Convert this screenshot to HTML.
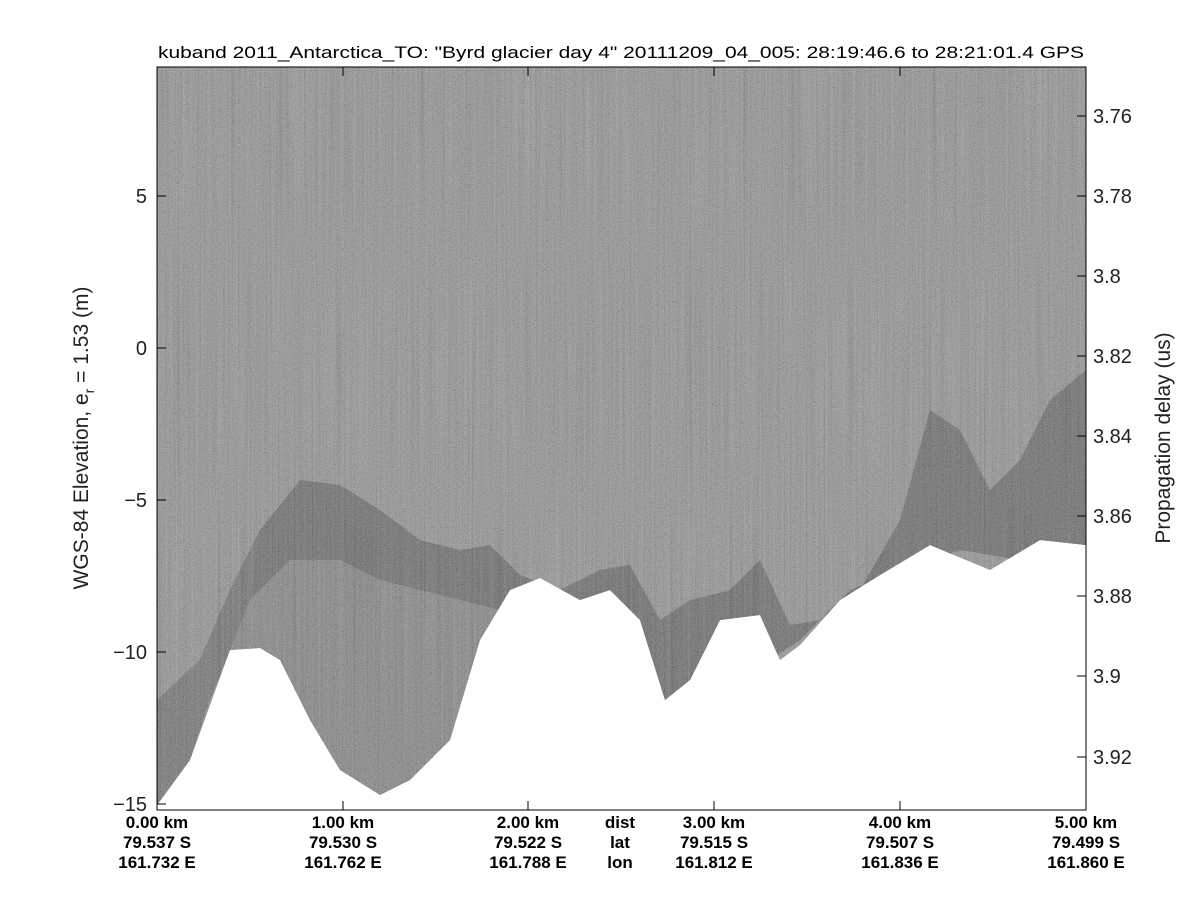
<!DOCTYPE html>
<html><head><meta charset="utf-8"><style>
html,body{margin:0;padding:0;background:#fff;}
svg{display:block;font-family:"Liberation Sans",sans-serif;}
</style></head><body>
<svg width="1200" height="900" viewBox="0 0 1200 900">
<defs>
<filter id="n" x="0" y="0" width="100%" height="100%">
<feTurbulence type="fractalNoise" baseFrequency="0.9 0.7" numOctaves="2" seed="3"/>
<feColorMatrix type="matrix" values="0.33 0.33 0.33 0 0  0.33 0.33 0.33 0 0  0.33 0.33 0.33 0 0  0 0 0 0 1"/>
<feComponentTransfer><feFuncR type="linear" slope="2.2" intercept="-0.6"/><feFuncG type="linear" slope="2.2" intercept="-0.6"/><feFuncB type="linear" slope="2.2" intercept="-0.6"/></feComponentTransfer>
</filter>
<filter id="v" x="0" y="0" width="100%" height="100%">
<feTurbulence type="fractalNoise" baseFrequency="0.5 0.004" numOctaves="2" seed="7"/>
<feColorMatrix type="matrix" values="0.33 0.33 0.33 0 0  0.33 0.33 0.33 0 0  0.33 0.33 0.33 0 0  0 0 0 0 1"/>
</filter>
<clipPath id="c"><rect x="157" y="67" width="929" height="743"/></clipPath>
<clipPath id="g"><polygon points="157,67 1086,67 1086,545 1040,540 990,570 930,545 880,575 840,600 800,645 780,660 760,615 720,620 690,680 665,700 640,620 610,590 580,600 540,578 510,590 480,640 450,740 410,780 380,795 340,770 310,720 280,660 260,648 230,650 190,760 157,805"/></clipPath>
</defs>
<g clip-path="url(#c)">
<rect x="157" y="67" width="929" height="743" fill="#fff"/>
<g clip-path="url(#g)">
<rect x="157" y="67" width="929" height="743" fill="#828282"/>
<polygon fill="#4a4a4a" points="157,700 200,660 230,590 260,530 300,480 340,485 380,510 420,540 460,550 490,545 520,575 560,590 600,570 630,565 660,620 690,600 730,590 760,560 790,625 820,620 860,590 900,520 930,410 960,430 990,490 1020,460 1050,400 1086,370 1086,560 1020,560 960,550 900,570 850,590 800,640 770,660 740,630 690,690 660,710 630,640 580,610 540,600 500,610 460,600 420,590 380,580 340,560 290,560 250,600 210,700 157,810"/>
<polygon fill="#555" points="157,700 200,660 230,590 260,530 250,600 230,650 210,700 190,760 157,810"/>
<polygon fill="#6e6e6e" points="250,600 290,560 340,560 380,580 420,590 460,600 500,610 480,640 450,740 410,780 380,795 340,770 310,720 280,660 260,648 230,650"/>
<rect x="157" y="67" width="929" height="743" filter="url(#n)" opacity="0.3"/>
<rect x="157" y="67" width="929" height="743" filter="url(#v)" opacity="0.25"/>
</g>
</g>
<rect x="157" y="67" width="929" height="743" fill="none" stroke="#000" stroke-width="1"/>
<g stroke="#000" stroke-width="1">
<line x1="157" y1="196" x2="166" y2="196"/><line x1="157" y1="348" x2="166" y2="348"/><line x1="157" y1="500" x2="166" y2="500"/><line x1="157" y1="652" x2="166" y2="652"/><line x1="157" y1="804" x2="166" y2="804"/>
<line x1="1077" y1="116" x2="1086" y2="116"/><line x1="1077" y1="196" x2="1086" y2="196"/><line x1="1077" y1="276" x2="1086" y2="276"/><line x1="1077" y1="356" x2="1086" y2="356"/><line x1="1077" y1="436" x2="1086" y2="436"/><line x1="1077" y1="516" x2="1086" y2="516"/><line x1="1077" y1="596" x2="1086" y2="596"/><line x1="1077" y1="676" x2="1086" y2="676"/><line x1="1077" y1="757" x2="1086" y2="757"/>
<line x1="343" y1="801" x2="343" y2="810"/><line x1="528" y1="801" x2="528" y2="810"/><line x1="714" y1="801" x2="714" y2="810"/><line x1="900" y1="801" x2="900" y2="810"/><line x1="343" y1="67" x2="343" y2="76"/><line x1="528" y1="67" x2="528" y2="76"/><line x1="714" y1="67" x2="714" y2="76"/><line x1="900" y1="67" x2="900" y2="76"/>
</g>
<text x="158" y="58" font-size="17" textLength="926" lengthAdjust="spacingAndGlyphs">kuband 2011_Antarctica_TO: "Byrd glacier day 4"  20111209_04_005: 28:19:46.6 to 28:21:01.4 GPS</text>
<g font-size="20" text-anchor="end" fill="#222">
<text x="147" y="203">5</text><text x="147" y="355">0</text><text x="147" y="507">−5</text><text x="147" y="659">−10</text><text x="147" y="811">−15</text>
</g>
<g font-size="20" text-anchor="start" fill="#222">
<text x="1093" y="123">3.76</text><text x="1093" y="203">3.78</text><text x="1093" y="283">3.8</text><text x="1093" y="363">3.82</text><text x="1093" y="443">3.84</text><text x="1093" y="523">3.86</text><text x="1093" y="603">3.88</text><text x="1093" y="683">3.9</text><text x="1093" y="764">3.92</text>
</g>
<text transform="translate(88,438) rotate(-90)" font-size="21" text-anchor="middle" fill="#222">WGS-84 Elevation, e<tspan font-size="14" dy="6">r</tspan><tspan dy="-6"> = 1.53 (m)</tspan></text>
<text transform="translate(1170,438) rotate(-90)" font-size="21" text-anchor="middle" fill="#222">Propagation delay (us)</text>
<g font-size="17" font-weight="bold" text-anchor="middle">
<text x="157" y="828">0.00 km</text><text x="157" y="848">79.537 S</text><text x="157" y="868">161.732 E</text>
<text x="343" y="828">1.00 km</text><text x="343" y="848">79.530 S</text><text x="343" y="868">161.762 E</text>
<text x="528" y="828">2.00 km</text><text x="528" y="848">79.522 S</text><text x="528" y="868">161.788 E</text>
<text x="620" y="828">dist</text><text x="620" y="848">lat</text><text x="620" y="868">lon</text>
<text x="714" y="828">3.00 km</text><text x="714" y="848">79.515 S</text><text x="714" y="868">161.812 E</text>
<text x="900" y="828">4.00 km</text><text x="900" y="848">79.507 S</text><text x="900" y="868">161.836 E</text>
<text x="1086" y="828">5.00 km</text><text x="1086" y="848">79.499 S</text><text x="1086" y="868">161.860 E</text>
</g>
</svg>
</body></html>
